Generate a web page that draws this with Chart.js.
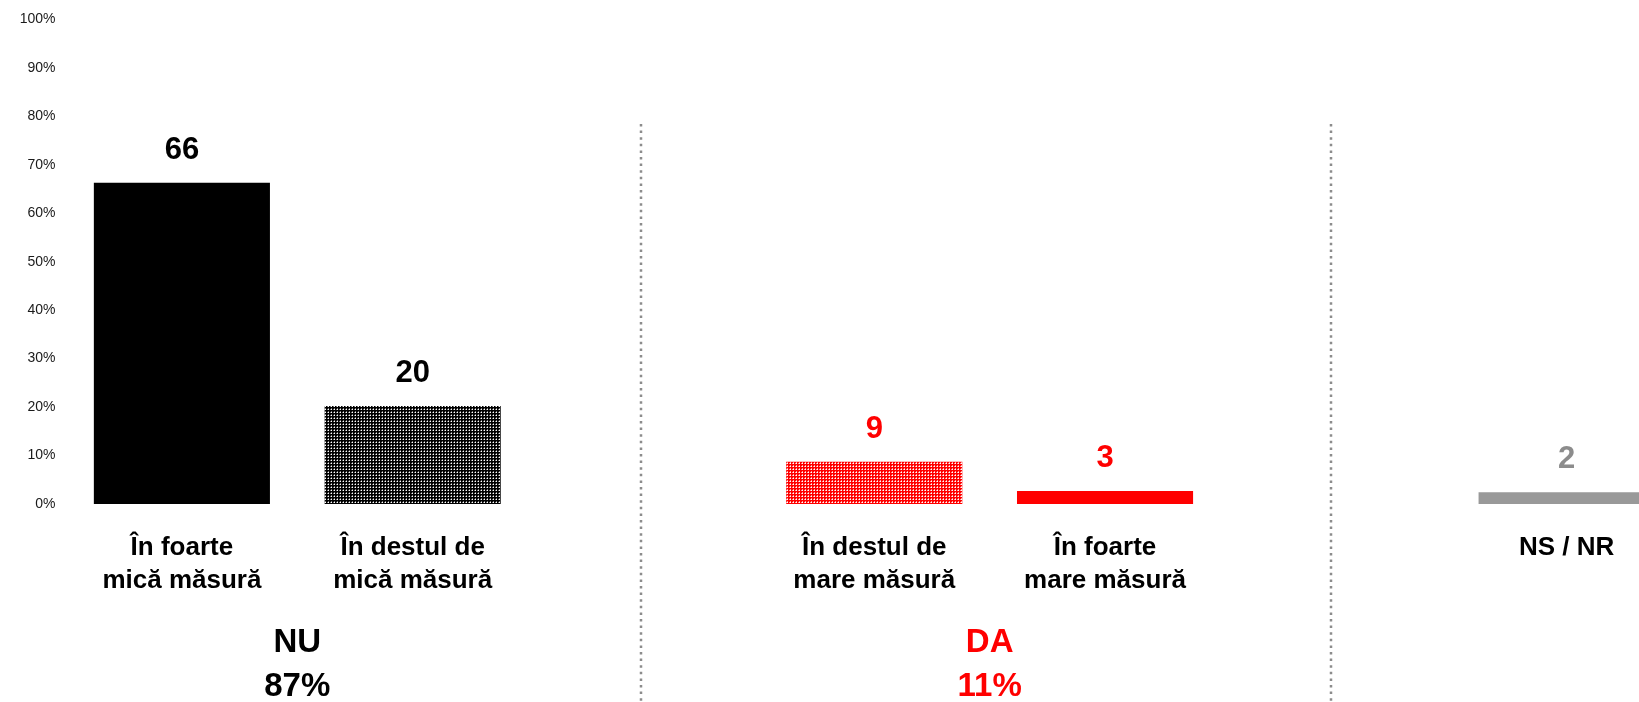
<!DOCTYPE html>
<html>
<head>
<meta charset="utf-8">
<script src="https://cdn.jsdelivr.net/npm/chart.js@4/dist/chart.umd.min.js"></script>
<style>
    html, body { margin: 0; padding: 0; background: #fff; overflow: hidden; }
    #wrap { width: 1700px; height: 702px; }
</style>
</head>
<body>
<div id="wrap"><canvas id="masuraChart" width="1700" height="702"></canvas></div>
<script>
// categories, index 2 and 5 are empty slots for the dividers
const categories = [
    ['În foarte', 'mică măsură'],
    ['În destul de', 'mică măsură'],
    [''],
    ['În destul de', 'mare măsură'],
    ['În foarte', 'mare măsură'],
    [''],
    ['NS / NR']
];
const values = [66.3, 20.2, null, 8.7, 2.7, null, 2.4];
const shownValues = ['66', '20', '', '9', '3', '', '2'];
const groupNames = ['NU', 'DA'];
const groupTotals = ['87%', '11%'];
const groupCenters = [0.5, 3.5];
const dividerAt = [1.99, 4.98];
const yTicks = [0, 10, 20, 30, 40, 50, 60, 70, 80, 90, 100];

let fontName = '"Liberation Sans", Arial, sans-serif';
let redColor = 'rgb(255, 0, 0)';
let grayColor = 'rgb(153, 153, 153)';

function dotPattern(base, dot, soft) {
    const c = document.createElement('canvas');
    c.width = 3;
    c.height = 3;
    const x = c.getContext('2d');
    x.fillStyle = base;
    x.fillRect(0, 0, 3, 3);
    x.fillStyle = dot;
    x.fillRect(1, 1, 1, 1);
    x.globalAlpha = soft;
    x.fillRect(0, 1, 1, 1);
    x.fillRect(1, 0, 1, 1);
    return x.createPattern(c, 'repeat');
}

const barColors = [
    '#000000',
    dotPattern('#000000', '#ffffff', 0.45),
    'transparent',
    dotPattern(redColor, '#ffffff', 0.6),
    redColor,
    'transparent',
    grayColor
];
const labelColors = ['#000', '#000', '#000', redColor, redColor, '#000', 'rgb(140,140,140)'];
const groupColors = ['#000', redColor];

// dotted separators
const dividers = {
    id: 'dividers',
    beforeDatasetsDraw(chart) {
        const { ctx, scales: { x } } = chart;
        ctx.save();
        ctx.strokeStyle = 'rgb(140,140,140)';
        ctx.lineWidth = 2.5;
        ctx.setLineDash([2.5, 4.1]);
        dividerAt.forEach(i => {
            const px = Math.round(x.getPixelForValue(i));
            ctx.beginPath();
            ctx.moveTo(px, 124);
            ctx.lineTo(px, chart.height);
            ctx.stroke();
        });
        ctx.restore();
    }
};

// value labels, category labels and group totals
const textLabels = {
    id: 'textLabels',
    afterDatasetsDraw(chart) {
        const { ctx, chartArea: { bottom }, scales: { x } } = chart;
        ctx.save();
        ctx.textAlign = 'center';
        ctx.textBaseline = 'alphabetic';
        chart.getDatasetMeta(0).data.forEach((bar, i) => {
            if (values[i] === null) return;
            ctx.font = 'bold 31px ' + fontName;
            ctx.fillStyle = labelColors[i];
            ctx.fillText(shownValues[i], bar.x, bar.y - 24);
            ctx.font = 'bold 26px ' + fontName;
            ctx.fillStyle = '#000';
            categories[i].forEach((line, k) => {
                ctx.fillText(line, bar.x, bottom + 51 + k * 33);
            });
        });
        groupNames.forEach((g, i) => {
            const px = x.getPixelForValue(groupCenters[i]);
            ctx.font = 'bold 33px ' + fontName;
            ctx.fillStyle = groupColors[i];
            ctx.fillText(g, px, bottom + 148);
            ctx.fillText(groupTotals[i], px, bottom + 192);
        });
        ctx.restore();
    }
};

const config = {
    type: 'bar',
    data: {
        labels: categories,
        datasets: [{
            data: values,
            backgroundColor: barColors,
            borderWidth: 0,
            barPercentage: 0.763,
            categoryPercentage: 1
        }]
    },
    options: {
        responsive: false,
        devicePixelRatio: 1,
        animation: { duration: 0 },
        layout: {
            padding: { top: 18, right: 18, bottom: 198, left: 0 }
        },
        plugins: {
            legend: { display: false },
            tooltip: { enabled: false }
        },
        scales: {
            x: {
                display: false
            },
            y: {
                min: 0,
                max: 100,
                border: { display: false },
                grid: { display: false, drawTicks: false },
                afterFit: (scale) => { scale.width = 66.5; },
                afterBuildTicks: (scale) => { scale.ticks = yTicks.map(v => ({ value: v })); },
                ticks: {
                    padding: 11,
                    color: '#1a1a1a',
                    font: { family: fontName, size: 14 },
                    callback: (v) => v + '%'
                }
            }
        }
    },
    plugins: [dividers, textLabels]
};

new Chart('masuraChart', config);
</script>
</body>
</html>
